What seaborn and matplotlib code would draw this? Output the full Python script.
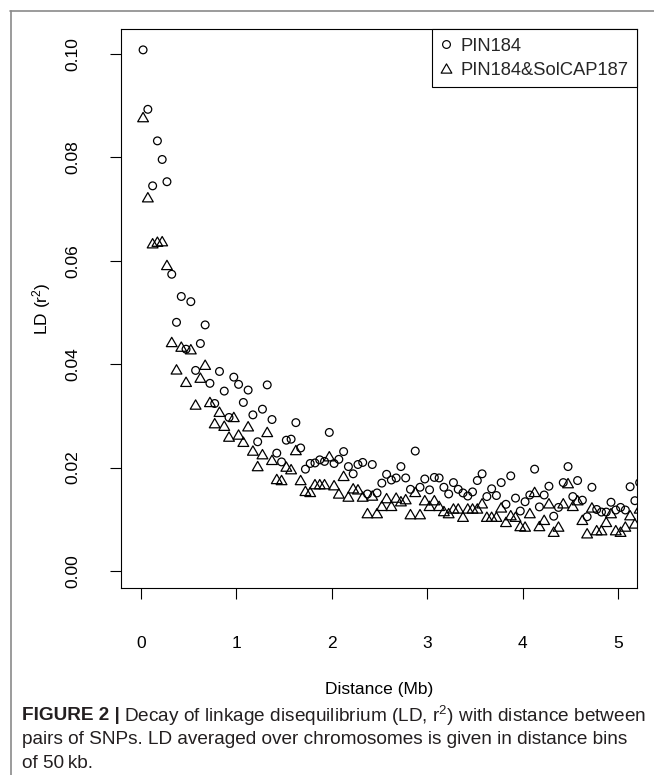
import numpy as np
import pandas as pd
import matplotlib
matplotlib.use("Agg")
import matplotlib.pyplot as plt
import seaborn as sns
from matplotlib.lines import Line2D
from matplotlib.path import Path

# ---------------- data (LD r^2 averaged per 50 kb distance bin) ----------------
bin_kb = 50
pin184 = [
    0.1008, 0.0893, 0.0745, 0.0832, 0.0796, 0.0753, 0.0574, 0.0481, 0.0531, 0.0429,
    0.0521, 0.0388, 0.0440, 0.0476, 0.0363, 0.0324, 0.0386, 0.0348, 0.0297, 0.0375,
    0.0361, 0.0326, 0.0350, 0.0302, 0.0250, 0.0313, 0.0360, 0.0293, 0.0228, 0.0211,
    0.0253, 0.0255, 0.0287, 0.0238, 0.0197, 0.0208, 0.0209, 0.0215, 0.0212, 0.0268,
    0.0208, 0.0216, 0.0231, 0.0202, 0.0188, 0.0206, 0.0210, 0.0149, 0.0206, 0.0151,
    0.0170, 0.0187, 0.0176, 0.0180, 0.0202, 0.0180, 0.0158, 0.0232, 0.0162, 0.0178,
    0.0157, 0.0181, 0.0180, 0.0162, 0.0149, 0.0171, 0.0158, 0.0151, 0.0145, 0.0153,
    0.0175, 0.0188, 0.0144, 0.0159, 0.0146, 0.0171, 0.0129, 0.0184, 0.0141, 0.0116,
    0.0134, 0.0147, 0.0197, 0.0124, 0.0147, 0.0164, 0.0106, 0.0123, 0.0171, 0.0202,
    0.0144, 0.0175, 0.0137, 0.0105, 0.0162, 0.0119, 0.0114, 0.0114, 0.0133, 0.0118,
    0.0123, 0.0118, 0.0163, 0.0136, 0.0171,
]
pin184_solcap187 = [
    0.0878, 0.0723, 0.0634, 0.0637, 0.0638, 0.0592, 0.0443, 0.0390, 0.0434, 0.0366,
    0.0429, 0.0322, 0.0374, 0.0399, 0.0327, 0.0286, 0.0308, 0.0281, 0.0260, 0.0298,
    0.0264, 0.0250, 0.0280, 0.0233, 0.0203, 0.0226, 0.0269, 0.0215, 0.0178, 0.0176,
    0.0202, 0.0197, 0.0234, 0.0176, 0.0155, 0.0153, 0.0168, 0.0168, 0.0168, 0.0222,
    0.0166, 0.0150, 0.0184, 0.0144, 0.0160, 0.0158, 0.0144, 0.0112, 0.0146, 0.0112,
    0.0126, 0.0141, 0.0126, 0.0142, 0.0135, 0.0139, 0.0110, 0.0153, 0.0110, 0.0137,
    0.0126, 0.0137, 0.0126, 0.0116, 0.0112, 0.0121, 0.0121, 0.0105, 0.0121, 0.0121,
    0.0121, 0.0131, 0.0105, 0.0105, 0.0105, 0.0123, 0.0095, 0.0108, 0.0105, 0.0087,
    0.0086, 0.0112, 0.0153, 0.0087, 0.0099, 0.0131, 0.0076, 0.0086, 0.0131, 0.0170,
    0.0126, 0.0137, 0.0099, 0.0073, 0.0123, 0.0079, 0.0079, 0.0095, 0.0112, 0.0079,
    0.0076, 0.0086, 0.0108, 0.0092, 0.0121,
]
series_names = ["PIN184", "PIN184&SolCAP187"]
x_ticks = [0, 1, 2, 3, 4, 5]
y_ticks = [0.00, 0.02, 0.04, 0.06, 0.08, 0.10]
x_label = "Distance (Mb)"
y_label = r"LD (r$^{2}$)"

# bin centres in Mb
distance_mb = (np.arange(len(pin184)) + 0.5) * bin_kb / 1000.0
df = pd.concat([
    pd.DataFrame({"distance": distance_mb, "ld": pin184, "set": series_names[0]}),
    pd.DataFrame({"distance": distance_mb, "ld": pin184_solcap187, "set": series_names[1]}),
])

# ---------------- style ----------------
sns.set_theme(style="white")
plt.rcParams["font.family"] = ["Liberation Sans", "DejaVu Sans"]
plt.rcParams["mathtext.fontset"] = "custom"
plt.rcParams["mathtext.rm"] = "Liberation Sans"
plt.rcParams["mathtext.it"] = "Liberation Sans"

W, H = 654, 775
fig = plt.figure(figsize=(W / 100, H / 100), dpi=100)
fig.patch.set_facecolor("white")

ax_l, ax_r, ax_t, ax_b = 120.7, 636.7, 29.3, 587.6
ax = fig.add_axes([ax_l / W, 1 - ax_b / H, (ax_r - ax_l) / W, (ax_b - ax_t) / H])

# open (R pch = 2 style) equilateral triangle, closed path
tri = Path([(-1.0, -0.866), (1.0, -0.866), (0.0, 0.866), (-1.0, -0.866)],
           [Path.MOVETO, Path.LINETO, Path.LINETO, Path.CLOSEPOLY])
markers = {series_names[0]: "o", series_names[1]: tri}
sizes = {series_names[0]: 31, series_names[1]: 60}

for name in series_names:
    sub = df[df["set"] == name]
    sns.scatterplot(data=sub, x="distance", y="ld", marker=markers[name], s=sizes[name],
                    color="black", facecolor="none", edgecolor="black",
                    linewidth=0.9, ax=ax, legend=False, zorder=3)

ax.set_xlim(-0.2094, 5.194)
ax.set_ylim(-0.00321, 0.10478)
ax.set_xticks(x_ticks)
ax.set_xticklabels([str(t) for t in x_ticks])
ax.set_yticks(y_ticks)
ax.set_yticklabels([f"{t:.2f}" for t in y_ticks], rotation=90, va="center")
ax.tick_params(axis="both", direction="out", length=8, width=0.8, color="black",
               labelsize=12.5, labelcolor="black", bottom=True, left=True)
ax.tick_params(axis="x", pad=27)
ax.tick_params(axis="y", pad=21)
for sp in ax.spines.values():
    sp.set_visible(True)
    sp.set_color("black")
    sp.set_linewidth(0.8)
ax.set_xlabel(x_label, fontsize=12.5, labelpad=22, color="black")
ax.set_ylabel(y_label, fontsize=12.5, labelpad=9, color="black")
ax.grid(False)

handles = [
    Line2D([], [], linestyle="none", marker="o", markersize=5.6, markerfacecolor="none",
           markeredgecolor="black", markeredgewidth=0.85),
    Line2D([], [], linestyle="none", marker=tri, markersize=7.7, markerfacecolor="none",
           markeredgecolor="black", markeredgewidth=0.85),
]
leg = ax.legend(handles, series_names, loc="upper right", bbox_to_anchor=(1, 1),
                borderaxespad=0, frameon=True, fancybox=False, framealpha=1,
                edgecolor="black", fontsize=13.2, handlelength=0.6, handletextpad=0.5,
                borderpad=0.45, labelspacing=0.4)
leg.get_frame().set_linewidth(0.8)

# ---------------- outer bracket frame ----------------
fig.add_artist(Line2D([10 / W, 1.0], [1 - 10.5 / H, 1 - 10.5 / H], transform=fig.transFigure,
                      color="#8a8a8a", linewidth=1.2))
fig.add_artist(Line2D([10.5 / W, 10.5 / W], [0.0, 1 - 10.5 / H], transform=fig.transFigure,
                      color="#8a8a8a", linewidth=1.2))

# ---------------- caption ----------------
cap_font = ["Liberation Sans Narrow", "Liberation Sans"]
cap_size = 13.7
x0 = 22 / W
y1 = 1 - 716 / H
t_bold = fig.text(x0, y1, "FIGURE 2 |", fontsize=cap_size, fontweight="bold",
                  family=cap_font, va="center", ha="left", color="#231f20")
fig.canvas.draw()
bb = t_bold.get_window_extent(renderer=fig.canvas.get_renderer())
fig.text(bb.x1 / W + 4 / W, y1,
         r"Decay of linkage disequilibrium (LD, r$^{2}$) with distance between",
         fontsize=cap_size, family=cap_font, va="center", ha="left", color="#231f20")
fig.text(x0, 1 - 740 / H,
         "pairs of SNPs. LD averaged over chromosomes is given in distance bins",
         fontsize=cap_size, family=cap_font, va="center", ha="left", color="#231f20")
fig.text(x0, 1 - 763 / H, "of 50\u2009kb.", fontsize=cap_size, family=cap_font,
         va="center", ha="left", color="#231f20")

fig.savefig("out.png", dpi=100, facecolor="white")
